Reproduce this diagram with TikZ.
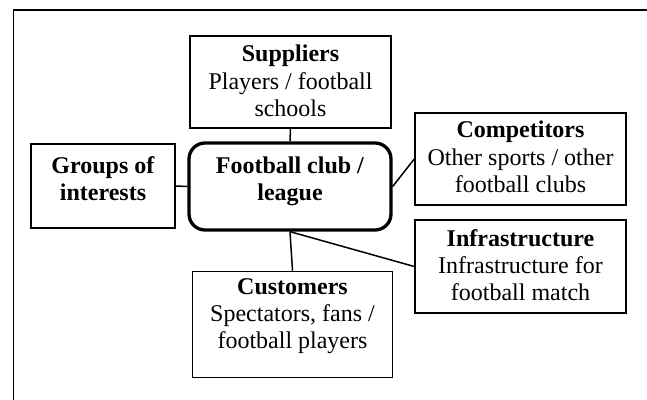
\documentclass[tikz,border=0pt]{standalone}
\usepackage{fontspec}
\setmainfont{Liberation Serif}
\begin{document}
\begin{tikzpicture}[x=1pt,y=-1pt,
  boxst/.style={draw=black,line width=1.5pt,rectangle,inner sep=0pt},
  centerst/.style={draw=black,line width=3.3pt,rectangle,rounded corners=16pt,inner sep=0pt},
  txt/.style={align=center,inner sep=0pt,font=\fontsize{24}{27.3}\selectfont},
  link/.style={draw=black,line width=1.5pt}]
\useasboundingbox (0,0) rectangle (647,399);
% outer frame
\draw[line width=1.4pt] (13.6,402) -- (13.6,10) -- (650,10);
% boxes
\node[boxst,minimum width=201pt,minimum height=92pt] (sup) at (290.5,82) {};
\node[centerst,minimum width=202pt,minimum height=87pt] (cen) at (290,186.5) {};
\node[boxst,minimum width=144pt,minimum height=84pt] (grp) at (103,186) {};
\node[boxst,minimum width=211pt,minimum height=92pt] (comp) at (520.5,159) {};
\node[boxst,minimum width=211pt,minimum height=93pt] (inf) at (520.5,266.5) {};
\node[boxst,minimum width=200pt,minimum height=106pt] (cus) at (292.5,324.5) {};
% texts
\node[txt] (tsup) at (290.5,81) {\textbf{Suppliers}\\Players / football\\schools};
\node[txt] (tcen) at (290,181) {\textbf{Football club /}\\\textbf{league}};
\node[txt] (tgrp) at (103,179) {\textbf{Groups of}\\\textbf{interests}};
\node[txt] (tcomp) at (520.5,157) {\textbf{Competitors}\\Other sports / other\\football clubs};
\node[txt] (tinf) at (520.5,265) {\textbf{Infrastructure}\\Infrastructure for\\football match};
\node[txt] (tcus) at (292.5,316) {\textbf{Customers}\\Spectators, fans /\\football players};
% connectors
\draw[link] (sup.south) -- (cen.north);
\draw[link] (grp.east) -- (cen.west);
\draw[link] (cen.east) -- (comp.west);
\draw[link] (cen.south) -- (inf.west);
\draw[link] (cen.south) -- (cus.north);
\end{tikzpicture}
\end{document}
